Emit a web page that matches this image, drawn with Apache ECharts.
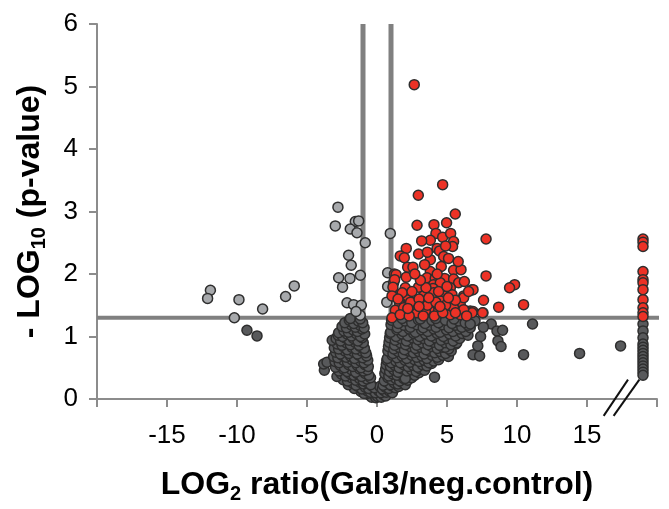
<!DOCTYPE html>
<html><head><meta charset="utf-8">
<script src="https://cdn.jsdelivr.net/npm/echarts@6/dist/echarts.min.js"></script>
<style>html,body{margin:0;padding:0;background:#fff}#c{width:669px;height:509px}</style>
</head><body><div id="c"></div>
<script>
// Axis ticks
const xTicks = [-15, -10, -5, 0, 5, 10, 15];
const yTicks = [0, 1, 2, 3, 4, 5, 6];
// Thresholds
const pThreshold = 1.3;
const fcThresholds = [-1, 1];
// Significant up-regulated (red)
const redPoints = [
[2.66,5.03],[4.69,3.43],[2.95,3.26],[5.59,2.96],[2.86,2.78],[4.07,2.79],[4.97,2.82],[4.21,2.65],[4.69,2.59],[5.26,2.65],
[3.81,2.54],[3.19,2.53],[5.47,2.52],[5.40,2.44],[2.09,2.41],[4.29,2.41],[4.47,2.37],[2.97,2.32],[1.66,2.29],[1.95,2.26],
[3.81,2.23],[4.76,2.28],[5.11,2.25],[2.19,2.11],[2.57,2.11],[4.59,2.12],[3.81,2.04],[5.47,2.06],[6.0,2.07],[1.24,2.0],
[2.09,1.95],[3.57,1.94],[4.16,1.93],[4.83,1.93],[5.47,1.92],[5.83,1.86],[6.24,1.88],[1.19,1.86],[4.04,1.83],[4.52,1.86],
[2.02,1.78],[2.97,1.79],[4.0,1.77],[5.24,1.78],[6.79,1.75],[1.19,1.65],[2.14,1.59],[3.33,1.65],[4.76,1.65],[5.36,1.67],
[6.19,1.65],[1.66,1.54],[2.61,1.54],[3.81,1.52],[4.52,1.57],[5.95,1.51],[6.66,1.41],[1.38,1.40],[2.14,1.41],[2.86,1.40],
[3.81,1.40],[5.24,1.35],[5.95,1.35],[7.79,2.56],[7.79,1.97],[9.83,1.83],[9.47,1.78],[6.86,1.75],[7.61,1.58],[8.69,1.47],
[10.47,1.51],[6.86,1.40],[7.57,1.38],[1.36,1.99],[1.26,1.91],[1.14,1.79],[1.07,1.65],[1.62,1.52],[1.31,1.42],[1.07,1.30],
[1.90,1.46],[2.38,1.43],[2.97,1.49],[3.93,1.65],[4.04,1.70],[6.19,1.62],[6.54,1.72],[7.54,1.38],[6.79,1.38],[6.19,1.43],
[5.47,1.46],[4.40,1.41],[3.45,1.41],[2.86,1.38],[1.66,1.35],[2.4,1.55],[3.0,1.6],[3.6,1.5],[4.2,1.55],[4.9,1.5],
[5.6,1.58],[2.3,1.33],[3.3,1.33],[4.1,1.33],[4.7,1.38],[5.6,1.38],[6.4,1.33],[1.8,1.7],[2.5,1.72],[3.5,1.78],
[4.4,1.72],[5.0,1.8],[3.1,1.9],[2.7,2.0],[3.4,2.15],[4.3,2.0],[5.8,2.2],[3.6,2.35],[4.9,2.45],[3.0,1.48],
[4.5,1.48],[5.1,1.62],[2.2,1.45],[1.5,1.6],[3.7,1.62],
[19,2.56],[19,2.51],[19,2.44],[19,2.04],[19,1.91],[19,1.86],[19,1.75],[19,1.59],[19,1.46],[19,1.38],[19,1.32]
];
// Significant, not up-regulated (light grey)
const lightPoints = [
[-11.9,1.74],[-12.1,1.61],[-9.86,1.59],[-10.19,1.30],[-8.17,1.44],[-6.53,1.64],[-5.91,1.81],[-2.79,3.07],[-2.98,2.77],[-1.55,2.84],
[-1.31,2.85],[-1.91,2.72],[-1.43,2.66],[-0.84,2.50],[0.95,2.65],[-2.03,2.30],[-1.84,2.14],[-2.74,1.94],[-1.93,1.93],[-1.19,1.98],
[-2.46,1.79],[-2.14,1.54],[-1.67,1.51],[-1.12,1.50],[0.76,2.02],[0.76,1.80],[-1.2,1.34],[0.7,1.55],[-1.5,1.4]
];
// Not significant (dark grey)
const darkPoints = [
[-0.55,0.06],[-0.38,0.03],[-0.22,0.07],[-0.08,0.02],[0.04,0.04],[0.16,0.08],[0.3,0.03],[0.45,0.07],[0.62,0.05],[-0.7,0.09],
[-1.15,0.12],[-0.92,0.09],[-0.68,0.13],[-0.47,0.11],[-0.28,0.14],[-0.12,0.1],[0.12,0.13],[0.28,0.1],[0.46,0.14],[0.66,0.11],[0.88,0.13],[1.1,0.1],
[-1.62,0.17],[-1.35,0.2],[-1.08,0.16],[-0.84,0.19],[-0.6,0.17],[-0.36,0.21],[-0.18,0.18],[0.2,0.2],[0.38,0.16],[0.6,0.19],[0.84,0.17],[1.06,0.21],[1.32,0.18],[1.55,0.2],
[-2.05,0.23],[-1.78,0.26],[-1.5,0.22],[-1.22,0.27],[-0.96,0.24],[-0.7,0.26],[-0.45,0.23],[0.44,0.22],[0.7,0.27],[0.95,0.23],[1.22,0.26],[1.5,0.24],[1.78,0.27],[2.02,0.23],
[-2.42,0.31],[-2.1,0.29],[-1.82,0.34],[-1.52,0.3],[-1.25,0.33],[-0.98,0.29],[-0.72,0.32],[-0.46,0.34],[0.52,0.29],[0.78,0.34],[1.05,0.31],[1.34,0.33],[1.62,0.29],[1.9,0.33],[2.2,0.3],[2.48,0.34],
[-2.86,0.36],[-2.55,0.4],[-2.24,0.37],[-1.96,0.41],[-1.66,0.38],[-1.38,0.4],[-1.1,0.36],[-0.84,0.41],[-0.58,0.38],[0.56,0.41],[0.84,0.37],[1.12,0.4],[1.42,0.38],[1.74,0.41],[2.04,0.37],[2.36,0.4],[2.7,0.38],[3.0,0.42],[4.11,0.35],[2.02,0.33],
[-3.76,0.46],[-2.72,0.45],[-2.42,0.48],[-2.12,0.44],[-1.82,0.47],[-1.52,0.43],[-1.24,0.48],[-0.96,0.45],[-0.68,0.47],[0.62,0.48],[0.9,0.44],[1.2,0.47],[1.5,0.43],[1.82,0.48],[2.14,0.45],[2.46,0.47],[2.8,0.44],[3.09,0.48],[3.4,0.46],
[-3.81,0.56],[-3.57,0.59],[-2.96,0.51],[-2.64,0.54],[-2.32,0.5],[-2.02,0.55],[-1.72,0.52],[-1.42,0.54],[-1.14,0.5],[-0.86,0.55],[-0.62,0.52],[0.66,0.55],[0.96,0.52],[1.26,0.54],[1.58,0.5],[1.9,0.55],[2.22,0.52],[2.56,0.54],[2.9,0.51],[3.24,0.55],[3.56,0.53],[3.9,0.57],
[-3.0,0.6],[-2.7,0.58],[-2.4,0.62],[-2.1,0.59],[-1.8,0.63],[-1.5,0.58],[-1.2,0.61],[-0.92,0.58],[-0.66,0.62],[0.7,0.62],[1.02,0.58],[1.34,0.61],[1.66,0.58],[2.0,0.62],[2.34,0.59],[2.68,0.63],[3.02,0.6],[3.36,0.62],[3.7,0.58],[4.05,0.61],[4.4,0.63],
[-3.1,0.68],[-2.8,0.66],[-2.5,0.7],[-2.2,0.67],[-1.9,0.69],[-1.6,0.65],[-1.3,0.7],[-1.02,0.66],[-0.74,0.69],[0.74,0.65],[1.08,0.7],[1.42,0.66],[1.78,0.69],[2.12,0.65],[2.48,0.7],[2.84,0.67],[3.2,0.69],[3.56,0.65],[3.92,0.7],[4.3,0.67],[4.7,0.7],[5.1,0.68],
[-2.95,0.75],[-2.62,0.72],[-2.3,0.77],[-2.0,0.73],[-1.7,0.76],[-1.4,0.72],[-1.1,0.77],[-0.8,0.74],[0.78,0.77],[1.14,0.73],[1.5,0.76],[1.88,0.72],[2.24,0.77],[2.6,0.74],[2.98,0.76],[3.36,0.72],[3.74,0.77],[4.12,0.74],[4.5,0.76],[4.9,0.73],[5.3,0.77],
[-3.05,0.82],[-2.74,0.8],[-2.42,0.84],[-2.12,0.79],[-1.8,0.83],[-1.5,0.8],[-1.2,0.84],[-0.9,0.81],[0.82,0.84],[1.2,0.8],[1.58,0.83],[1.96,0.79],[2.36,0.84],[2.74,0.81],[3.12,0.83],[3.5,0.79],[3.9,0.84],[4.3,0.81],[4.7,0.83],[5.12,0.8],[5.64,0.88],[4.88,0.83],
[-2.84,0.88],[-2.5,0.86],[-2.2,0.9],[-1.9,0.87],[-1.58,0.91],[-1.28,0.86],[-0.98,0.9],[0.86,0.91],[1.26,0.86],[1.66,0.9],[2.04,0.87],[2.44,0.91],[2.84,0.86],[3.24,0.9],[3.64,0.87],[4.04,0.91],[4.46,0.86],[4.86,0.9],[5.28,0.87],[5.7,0.9],
[-3.2,0.94],[-2.92,0.97],[-2.6,0.93],[-2.3,0.98],[-1.98,0.94],[-1.68,0.97],[-1.36,0.93],[-1.06,0.98],[0.9,0.98],[1.3,0.94],[1.7,0.97],[2.1,0.93],[2.52,0.98],[2.92,0.95],[3.34,0.97],[3.74,0.93],[4.16,0.98],[4.58,0.94],[5.0,0.97],[5.44,0.93],[5.9,0.97],
[-2.78,1.02],[-2.46,1.0],[-2.14,1.04],[-1.82,1.01],[-1.5,1.05],[-1.18,1.0],[-0.88,1.04],[0.94,1.05],[1.36,1.0],[1.78,1.04],[2.2,1.01],[2.62,1.05],[3.04,1.0],[3.46,1.04],[3.88,1.01],[4.3,1.05],[4.74,1.0],[5.18,1.04],[5.62,1.01],[6.08,1.05],[6.5,1.02],
[-2.74,1.06],[-2.36,1.09],[-2.04,1.07],[-1.72,1.11],[-1.4,1.08],[-1.08,1.12],[0.98,1.07],[1.42,1.11],[1.86,1.08],[2.3,1.12],[2.74,1.07],[3.18,1.11],[3.62,1.08],[4.06,1.12],[4.5,1.07],[4.96,1.11],[5.42,1.08],[5.88,1.12],[6.34,1.08],[6.66,1.14],
[-2.5,1.16],[-2.18,1.14],[-1.86,1.19],[-1.54,1.15],[-1.22,1.18],[-0.92,1.14],[1.0,1.19],[1.46,1.14],[1.92,1.18],[2.38,1.15],[2.84,1.19],[3.3,1.14],[3.76,1.18],[4.22,1.15],[4.68,1.19],[5.14,1.14],[5.6,1.18],[6.06,1.15],[6.5,1.18],
[-2.3,1.22],[-1.98,1.26],[-1.66,1.21],[-1.34,1.25],[-1.02,1.22],[1.04,1.26],[1.52,1.21],[2.0,1.25],[2.48,1.22],[2.96,1.27],[3.44,1.21],[3.92,1.26],[4.4,1.22],[4.88,1.26],[5.36,1.21],[5.84,1.25],[6.3,1.22],[7.0,1.25],[6.66,1.2],
[-1.9,1.29],[-1.2,1.28],[1.8,1.29],[3.1,1.28],[4.2,1.29],[5.5,1.28],
[-9.29,1.10],[-8.57,1.01],[6.86,0.71],[7.33,0.69],[10.47,0.71],[8.16,1.2],[11.11,1.2],[8.57,1.09],[8.97,1.10],[8.64,0.93],[8.86,0.84],[14.47,0.73],[17.4,0.85],[7.4,1.0],[7.6,1.15],[7.2,0.85],
[19,1.20],[19,1.09],[19,0.98],[19,0.88],[19,0.83],[19,0.78],[19,0.73],[19,0.68],[19,0.63],[19,0.58],[19,0.53],[19,0.48],[19,0.43],[19,0.38]
];
// break mark ("//") endpoints on the x axis, data coords
const breakMarks = [[[16.19,-0.27],[17.93,0.31]],[[16.9,-0.27],[18.74,0.31]]];

const FONT = 'Liberation Sans, Arial, sans-serif';
const chart = echarts.init(document.getElementById('c'), null, {renderer:'canvas'});
const axisCol = '#8c8c8c';
const lineCol = '#808080';
const ptStyle = (c) => ({color:c, borderColor:'#2e2e2e', borderWidth:1.5, opacity:1});
const refLine = (data, w) => ({type:'line', data, symbol:'none', silent:true, clip:false, z:1,
  lineStyle:{color:lineCol, width:w, type:'solid'}});
const richTitle = {
  a:{fontSize:32, fontWeight:'bold', color:'#000', fontFamily:FONT, lineHeight:38},
  s:{fontSize:20, fontWeight:'bold', color:'#000', fontFamily:FONT, lineHeight:21, verticalAlign:'bottom'}
};
chart.setOption({
  animation:false,
  backgroundColor:'#fff',
  grid:{left:97, right:12, top:24, bottom:107},
  xAxis:{
    type:'value', min:-20, max:20, interval:5,
    axisLine:{show:true, onZero:false, lineStyle:{color:axisCol, width:2}},
    axisTick:{show:true, length:8, lineStyle:{color:axisCol, width:2}},
    splitLine:{show:false},
    axisLabel:{fontSize:26, color:'#000', fontFamily:FONT, margin:24,
      formatter:(v)=> xTicks.includes(v) ? String(v) : ''},
    name:'{a|LOG}{s|2}{a| ratio(Gal3/neg.control)}',
    nameLocation:'middle', nameGap:67,
    nameTextStyle:{rich:richTitle}
  },
  yAxis:{
    type:'value', min:0, max:6, interval:1,
    axisLine:{show:true, onZero:false, lineStyle:{color:axisCol, width:2}},
    axisTick:{show:true, length:8, lineStyle:{color:axisCol, width:2}},
    splitLine:{show:false},
    axisLabel:{fontSize:26, color:'#000', fontFamily:FONT, margin:19,
      formatter:(v)=> yTicks.includes(v) ? String(v) : ''},
    name:'{a|- LOG}{s|10}{a| (p-value)}',
    nameLocation:'middle', nameGap:48, nameRotate:90,
    nameTextStyle:{rich:richTitle}
  },
  series:[
    refLine([[-20,pThreshold],[20.3,pThreshold]], 4),
    refLine([[fcThresholds[0],0],[fcThresholds[0],6]], 5),
    refLine([[fcThresholds[1],0],[fcThresholds[1],6]], 5),
    {type:'scatter', data:darkPoints, symbolSize:10, itemStyle:ptStyle('#58595b'), z:3},
    {type:'scatter', data:lightPoints, symbolSize:10, itemStyle:ptStyle('#a7a9ac'), z:4},
    {type:'scatter', data:redPoints, symbolSize:10, itemStyle:ptStyle('#ec3226'), z:5}
  ]
});
const gfx = breakMarks.map(seg => {
  const p1 = chart.convertToPixel({gridIndex:0}, seg[0]);
  const p2 = chart.convertToPixel({gridIndex:0}, seg[1]);
  return {type:'line', shape:{x1:p1[0], y1:p1[1], x2:p2[0], y2:p2[1]}, style:{stroke:'#111', lineWidth:2}, z:100};
});
chart.setOption({graphic:gfx});
</script>
</body></html>
